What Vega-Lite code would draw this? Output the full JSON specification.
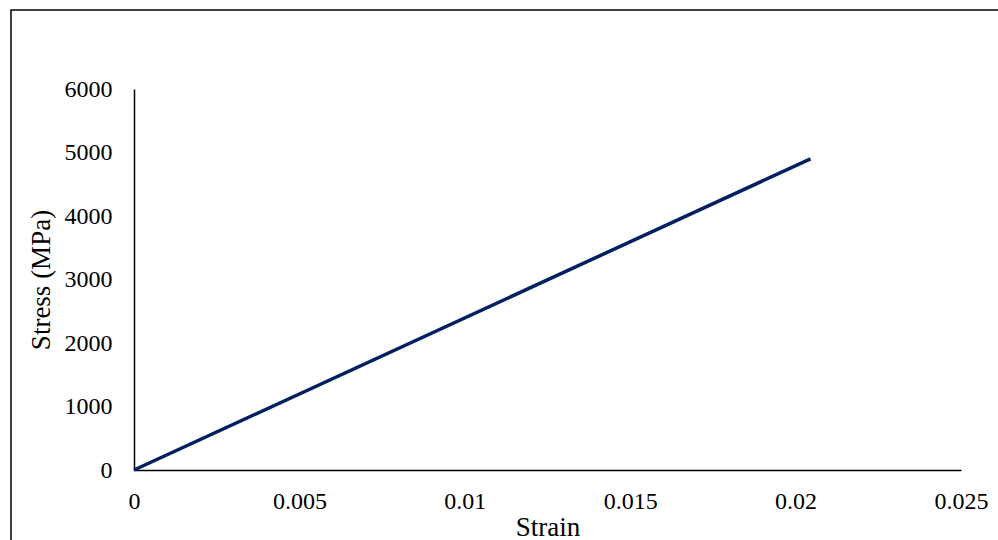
{
  "$schema": "https://vega.github.io/schema/vega-lite/v6.json",
  "width": 1000,
  "height": 540,
  "autosize": "none",
  "padding": {"left": 11, "top": 10, "right": 0, "bottom": 0},
  "background": "white",
  "config": {
    "view": {"stroke": "#000000", "strokeWidth": 1.5},
    "axis": {
      "labelFont": "Liberation Serif",
      "titleFont": "Liberation Serif",
      "labelColor": "#000000",
      "titleColor": "#000000",
      "labelFontSize": 24,
      "titleFontSize": 27,
      "titleFontWeight": "normal",
      "domainColor": "#000000",
      "domainWidth": 1.5,
      "ticks": false,
      "tickSize": 0,
      "grid": false,
      "labelFlush": false,
      "labelOverlap": false
    }
  },
  "data": {
    "values": [
      {"strain": 0, "stress": 0},
      {"strain": 0.02045, "stress": 4900}
    ]
  },
  "mark": {"type": "line", "color": "#002060", "strokeWidth": 3.5},
  "encoding": {
    "x": {
      "field": "strain",
      "type": "quantitative",
      "scale": {"domain": [0, 0.025], "range": [123, 950], "nice": false, "zero": true},
      "axis": {
        "orient": "bottom",
        "offset": -80,
        "values": [0, 0.005, 0.01, 0.015, 0.02, 0.025],
        "format": "~g",
        "labelBaseline": "alphabetic",
        "labelPadding": 38,
        "title": "Strain",
        "titleBaseline": "alphabetic",
        "titleY": 65
      }
    },
    "y": {
      "field": "stress",
      "type": "quantitative",
      "scale": {"domain": [0, 6000], "range": [460, 79], "nice": false, "zero": true},
      "axis": {
        "orient": "left",
        "offset": -123,
        "values": [0, 1000, 2000, 3000, 4000, 5000, 6000],
        "format": "d",
        "labelPadding": 22,
        "title": "Stress (MPa)",
        "titleAngle": -90,
        "titleBaseline": "alphabetic",
        "titleX": -85
      }
    }
  }
}
